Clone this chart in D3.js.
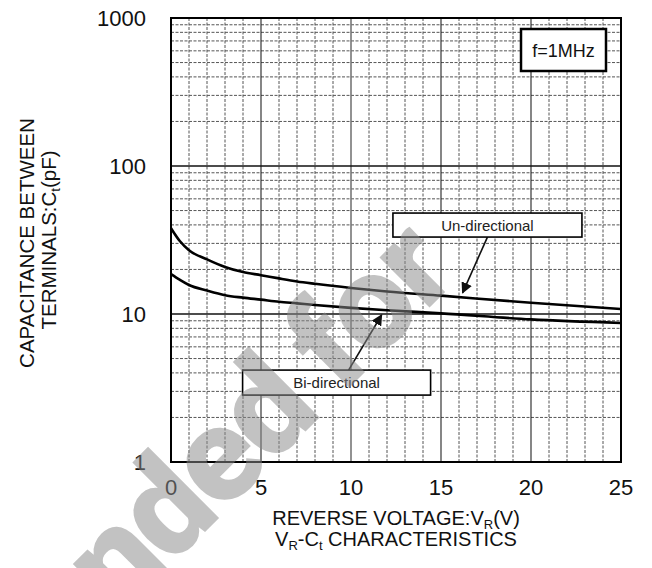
<!DOCTYPE html>
<html><head><meta charset="utf-8">
<script src="https://cdn.jsdelivr.net/npm/d3@7"></script>
<style>
html,body{margin:0;padding:0;background:#fff;}
svg{display:block;font-family:Arial,"Liberation Sans",sans-serif;}
</style></head>
<body><svg id="c" width="652" height="568"></svg>
<script>
// ---- data ----
const voltage = [0, 0.5, 1, 2, 3, 4, 5, 6, 7, 8, 10, 12, 15, 20, 25];
const unDirectional = [38, 31, 27, 23.4, 20.8, 19.2, 18.3, 17.4, 16.6, 16.0, 15.0, 14.2, 13.3, 11.9, 10.8];
const biDirectional = [18.6, 17.0, 15.7, 14.4, 13.4, 12.9, 12.5, 12.1, 11.8, 11.5, 11.0, 10.6, 10.1, 9.2, 8.7];
const xTicks = [0, 5, 10, 15, 20, 25];
const yTicks = [1, 10, 100, 1000];
// annotations: label position and arrow tip in data units
const annotations = [
  {text: "Un-directional", lx: 17.58, ly: 39.9, tx: 16.2, ty: 13.9, w: 189, h: 24, side: "bottom"},
  {text: "Bi-directional", lx: 9.2, ly: 3.44, tx: 11.7, ty: 9.85, w: 188, h: 25, side: "top"}
];

const svg = d3.select("#c");
const x = d3.scaleLinear().domain([0, 25]).range([171, 621]);
const y = d3.scaleLog().domain([1, 1000]).range([462, 18]);

// grid
const g = svg.append("g");
const minorY = [];
[1, 10, 100].forEach(d => { for (let k = 2; k <= 9; k++) minorY.push(d * k); });
g.selectAll(".hy").data(minorY).enter().append("line")
  .attr("x1", x(0)).attr("x2", x(25)).attr("y1", d => y(d)).attr("y2", d => y(d))
  .attr("stroke", "#555").attr("stroke-width", 1).attr("stroke-dasharray", "3,1.5");
g.selectAll(".hx").data(d3.range(1, 25).filter(v => v % 5 !== 0)).enter().append("line")
  .attr("x1", d => x(d)).attr("x2", d => x(d)).attr("y1", y(1000)).attr("y2", y(1))
  .attr("stroke", "#555").attr("stroke-width", 1).attr("stroke-dasharray", "3,1.5");
g.selectAll(".mx").data([5, 10, 15, 20]).enter().append("line")
  .attr("x1", d => x(d)).attr("x2", d => x(d)).attr("y1", y(1000)).attr("y2", y(1))
  .attr("stroke", d => d === 10 ? "#777" : "#222").attr("stroke-width", d => d === 10 ? 1.6 : 1.1);
g.selectAll(".my").data([10, 100]).enter().append("line")
  .attr("x1", x(0)).attr("x2", x(25)).attr("y1", d => y(d)).attr("y2", d => y(d))
  .attr("stroke", "#111").attr("stroke-width", 1.3);
g.append("rect").attr("x", x(0)).attr("y", y(1000)).attr("width", x(25) - x(0)).attr("height", y(1) - y(1000))
  .attr("fill", "none").attr("stroke", "#000").attr("stroke-width", 2);

// curves
const line = d3.line().x((d, i) => x(voltage[i])).y(d => y(d)).curve(d3.curveMonotoneX);
[unDirectional, biDirectional].forEach(s => {
  svg.append("path").attr("d", line(s)).attr("fill", "none").attr("stroke", "#000").attr("stroke-width", 2.6);
});

// tick labels
svg.selectAll(".xt").data(xTicks).enter().append("text")
  .attr("x", d => x(d)).attr("y", 495).attr("text-anchor", "middle")
  .attr("font-size", 22).attr("fill", "#111").text(d => d);
svg.selectAll(".yt").data(yTicks).enter().append("text")
  .attr("x", 146).attr("y", d => y(d) + 8).attr("text-anchor", "end")
  .attr("font-size", 22).attr("fill", "#111").text(d => d);

// axis titles
const xt = svg.append("text").attr("x", 396).attr("y", 525).attr("text-anchor", "middle").attr("font-size", 20).attr("fill", "#111");
xt.append("tspan").text("REVERSE VOLTAGE:V");
xt.append("tspan").attr("font-size", 13).attr("dy", 4).text("R");
xt.append("tspan").attr("dy", -4).text("(V)");
const xt2 = svg.append("text").attr("x", 396).attr("y", 546).attr("text-anchor", "middle").attr("font-size", 20).attr("fill", "#111");
xt2.append("tspan").text("V");
xt2.append("tspan").attr("font-size", 13).attr("dy", 4).text("R");
xt2.append("tspan").attr("dy", -4).text("-C");
xt2.append("tspan").attr("font-size", 13).attr("dy", 4).text("t");
xt2.append("tspan").attr("dy", -4).text(" CHARACTERISTICS");

svg.append("text").attr("transform", "translate(34,243) rotate(-90)").attr("text-anchor", "middle")
  .attr("font-size", 20.5).attr("fill", "#111").text("CAPACITANCE BETWEEN");
const yt2 = svg.append("text").attr("transform", "translate(56,240) rotate(-90)").attr("text-anchor", "middle")
  .attr("font-size", 20.5).attr("fill", "#111");
yt2.append("tspan").text("TERMINALS:C");
yt2.append("tspan").attr("font-size", 13).attr("dy", 4).text("t");
yt2.append("tspan").attr("dy", -4).text("(pF)");

// f=1MHz box
svg.append("rect").attr("x", 521).attr("y", 29).attr("width", 85).attr("height", 42)
  .attr("fill", "#fff").attr("stroke", "#000").attr("stroke-width", 2.5);
svg.append("text").attr("x", 563.5).attr("y", 56.5).attr("text-anchor", "middle").attr("font-size", 18).attr("fill", "#111").text("f=1MHz");

// annotations
const defs = svg.append("defs");
defs.append("marker").attr("id", "ah").attr("viewBox", "0 0 10 10").attr("refX", 9).attr("refY", 5)
  .attr("markerWidth", 7).attr("markerHeight", 7).attr("orient", "auto-start-reverse")
  .append("path").attr("d", "M0,0 L10,5 L0,10 Z").attr("fill", "#111");
annotations.forEach(a => {
  const cx = x(a.lx), cy = y(a.ly);
  const sy = a.side === "bottom" ? cy + a.h / 2 : cy - a.h / 2;
  const sx = a.side === "bottom" ? cx : cx + 12;
  svg.append("line").attr("x1", sx).attr("y1", sy).attr("x2", x(a.tx)).attr("y2", y(a.ty))
    .attr("stroke", "#111").attr("stroke-width", 1.6).attr("marker-end", "url(#ah)");
  svg.append("rect").attr("x", cx - a.w / 2).attr("y", cy - a.h / 2).attr("width", a.w).attr("height", a.h)
    .attr("fill", "#fff").attr("stroke", "#000").attr("stroke-width", 1.6);
  svg.append("text").attr("x", cx).attr("y", cy + 5.5).attr("text-anchor", "middle")
    .attr("font-size", 15).attr("fill", "#222").text(a.text);
});

// watermark
const wm = svg.append("g").attr("font-family", "Roboto, Lato, Inter, sans-serif")
  .attr("font-size", 134).attr("font-weight", 900).attr("letter-spacing", -3)
  .attr("fill", "#8a8a8a").attr("fill-opacity", 0.52);
wm.append("text").attr("transform", "translate(322,415) rotate(-45)").attr("text-anchor", "end").text("Recommended");
wm.append("text").attr("transform", "translate(341.5,395.5) rotate(-45)").attr("text-anchor", "start").text("for");
</script></body></html>
